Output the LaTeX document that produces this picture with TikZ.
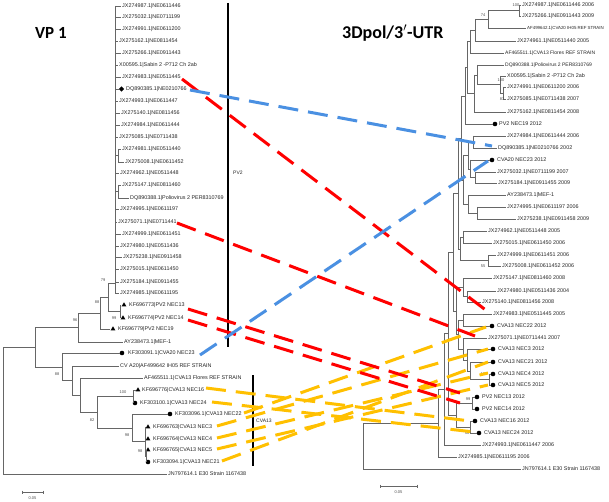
\documentclass[tikz,border=0pt]{standalone}
\usepackage{fontspec}
\setmainfont{Liberation Sans}
\newfontfamily\titlefont{Carlito}
\usetikzlibrary{shapes.geometric}
\newcommand\tvb[3]{\draw[tree] (#1,#2) -- (#1,#3);}
\newcommand\thb[3]{\draw[tree] (#1,#3) -- (#2,#3);}
\newcommand\lf[4]{\node[lab] (#1) at (#2,#3) {#4};}
\begin{document}
\begin{tikzpicture}[x=1pt,y=-1pt,
  tree/.style={draw=black!60, line width=0.5pt},
  lab/.style={anchor=west, inner sep=0pt, font=\fontsize{5.4}{6}\selectfont, text=black!85},
  bs/.style={inner sep=0pt, font=\fontsize{4}{5}\selectfont, text=black!70},
  tri/.style={regular polygon, regular polygon sides=3, fill=black, inner sep=0pt, minimum size=5.5pt},
  dot/.style={circle, fill=black, inner sep=0pt, minimum size=4.6pt},
  dia/.style={diamond, fill=black, inner sep=0pt, minimum size=5.5pt},
  conn/.style={line width=3pt, dash pattern=on 20pt off 10pt},
  bar/.style={draw=black, line width=1.3pt},
  ttl/.style={font=\titlefont\bfseries\fontsize{17}{19}\selectfont, inner sep=0pt}
]
\fill[white] (0,0) rectangle (609,502);
\useasboundingbox (0,0) rectangle (609,502);

% ---------- titles ----------
\node[ttl, anchor=west] (t1) at (35,33) {VP 1};
\node[ttl, anchor=west, font=\titlefont\bfseries\fontsize{18}{20}\selectfont] (t2) at (342,33) {3Dpol/3$'$-UTR};

% ---------- LEFT TREE leaves ----------
\lf{L1}{122}{6}{JX274987.1|NE0611446}
\lf{L2}{122}{17}{JX275032.1|NE0711199}
\lf{L3}{122}{29}{JX274991.1|NE0611200}
\lf{L4}{119}{41}{JX275162.1|NE0811454}
\lf{L5}{122}{53}{JX275266.1|NE0911443}
\lf{L6}{119}{65}{X00595.1|Sabin 2 -P712 Ch 2ab}
\lf{L7}{122}{77}{JX274983.1|NE0511445}
\lf{L8}{126}{89}{DQ890385.1|NE0210766}
\lf{L9}{119}{101}{JX274993.1|NE0611447}
\lf{L10}{121}{113}{JX275140.1|NE0811456}
\lf{L11}{121}{125}{JX274984.1|NE0611444}
\lf{L12}{119}{137}{JX275085.1|NE0711438}
\lf{L13}{122}{149}{JX274981.1|NE0511440}
\lf{L14}{125}{162}{JX275008.1|NE0611452}
\lf{L15}{120}{173}{JX274962.1|NE0511448}
\lf{L16}{122}{185}{JX275147.1|NE0811460}
\lf{L17}{130}{198}{DQ890388.1|Poliovirus 2 PER8310769}
\lf{L18}{120}{209}{JX274995.1|NE0611197}
\lf{L19}{118}{222}{JX275071.1|NE0711441}
\lf{L20}{122}{234}{JX274999.1|NE0611451}
\lf{L21}{120}{246}{JX274980.1|NE0511436}
\lf{L22}{123}{257}{JX275238.1|NE0911458}
\lf{L23}{120}{269}{JX275015.1|NE0611450}
\lf{L24}{120}{282}{JX275184.1|NE0911455}
\lf{L25}{120}{293}{JX274985.1|NE0611195}
\lf{L26}{129}{305}{KF696773|PV2 NEC13}
\lf{L27}{128}{318}{KF696774|PV2 NEC14}
\lf{L28}{118}{329}{KF696779|PV2 NEC19}
\lf{L29}{124}{342}{AY238473.1|MEF-1}
\lf{L30}{128}{353}{KF303091.1|CVA20 NEC23}
\lf{L31}{120}{366}{CV A20|AF499642 IH05 REF STRAIN}
\lf{L32}{144}{378}{AF465511.1|CVA13 Flores REF STRAIN}
\lf{L33}{142}{390}{KF696776|CVA13 NEC16}
\lf{L34}{140}{403}{KF303100.1|CVA13 NEC24}
\lf{L35}{175}{414}{KF303096.1|CVA13 NEC22}
\lf{L36}{153}{427}{KF696763|CVA13 NEC3}
\lf{L37}{153}{439}{KF696764|CVA13 NEC4}
\lf{L38}{153}{450}{KF696765|CVA13 NEC5}
\lf{L39}{153}{462}{KF303094.1|CVA13 NEC21}
\lf{L40}{168}{474}{JN797614.1 E30 Strain 1167438}
% markers
\node[dia] (mL8) at (121.5,89) {};
\node[tri] (mL26) at (124,305) {};
\node[tri] (mL27) at (123,318) {};
\node[tri] (mL28) at (113,329) {};
\node[dot] (mL30) at (122,353) {};
\node[tri] (mL33) at (138,390) {};
\node[dot] (mL34) at (135,403) {};
\node[dot] (mL35) at (170,414) {};
\node[tri] (mL36) at (148,427) {};
\node[tri] (mL37) at (148,439) {};
\node[tri] (mL38) at (148,450) {};
\node[dot] (mL39) at (148,462) {};

% ---------- LEFT TREE branches ----------
\tvb{3}{347}{474} \thb{3}{35}{347} \thb{3}{166.5}{474}
\tvb{35}{327.5}{367} \thb{35}{78}{327.5} \thb{35}{62}{367}
\tvb{78}{313}{342} \thb{78}{100}{313} \thb{78}{122.5}{342}
\tvb{100}{297}{329} \thb{100}{108}{297} \thb{100}{110}{329}
\tvb{108}{283}{311.5} \thb{108}{115}{283} \thb{108}{120}{311.5}
\tvb{120}{305}{318} \thb{120}{121}{305}
\tvb{115}{6}{293}
\foreach \yy/\xx in {6/122,17/122,29/122,41/119,53/122,65/119,77/122,101/119,113/121,125/121,137/119,173/120,209/120,222/118,234/122,246/120,257/123,269/120,282/120,293/120}
  {\draw[tree] (115,\yy) -- (\xx-1.5,\yy);}
\thb{115}{119}{89}
\tvb{118}{149}{162} \thb{115}{118}{155.5} \thb{118}{120.5}{149} \thb{118}{123.5}{162}
\tvb{118}{185}{198} \thb{115}{118}{191.5} \thb{118}{120.5}{185} \thb{118}{128.5}{198}
\tvb{62}{353}{380.5} \thb{62}{119.5}{353} \thb{62}{72}{380.5}
\tvb{72}{366}{395} \thb{72}{118.5}{366} \thb{72}{80}{395}
\tvb{80}{378}{412} \thb{80}{142.5}{378} \thb{80}{97}{412}
\tvb{97}{396.5}{428} \thb{97}{133}{396.5} \thb{97}{132}{428}
\tvb{133}{390}{403} \thb{133}{135.5}{390}
\tvb{132}{414}{441.5} \thb{132}{167.5}{414} \thb{132}{145}{441.5}
\tvb{145}{427}{456} \thb{145}{146}{427} \thb{145}{146}{439} \thb{145}{146.5}{456}
\tvb{146.5}{450}{462}

% bootstrap values left
\node[bs] (bl1) at (103,280) {79};
\node[bs] (bl2) at (97,302) {88};
\node[bs] (bl3) at (75,320) {96};
\node[bs] (bl4) at (114,318) {99};
\node[bs] (bl5) at (57,374) {88};
\node[bs] (bl6) at (123,392) {100};
\node[bs] (bl7) at (92,420) {82};
\node[bs] (bl8) at (127,435) {98};
\node[bs] (bl9) at (140,451) {98};

% scale bar left
\draw[tree] (22,492) -- (43,492);
\draw[tree] (22,490.5) -- (22,493.5);
\draw[tree] (43,490.5) -- (43,493.5);
\node[bs] (sl) at (32.5,498) {0.05};

% group bars
\draw[bar] (228,3) -- (228,347);
\node[lab, font=\fontsize{5}{6}\selectfont] (pv2) at (233,173) {PV2};
\draw[bar] (253,375) -- (253,466);
\node[lab, font=\fontsize{5}{6}\selectfont] (cva13) at (256,421) {CVA13};

% ---------- RIGHT TREE leaves ----------
\lf{R1}{522}{5}{JX274987.1|NE0611446 2006}
\lf{R2}{522}{16}{JX275266.1|NE0911443 2009}
\node[lab, font=\fontsize{4.4}{5}\selectfont] (R3) at (527,28) {AF499642.1|CVA20 IH05 REF STRAIN};
\lf{R4}{517}{41}{JX274961.1|NE0511440 2005}
\node[lab, font=\fontsize{5.0}{6}\selectfont] (R5) at (505,53) {AF465511.1|CVA13 Flores REF STRAIN};
\node[lab, font=\fontsize{5.0}{6}\selectfont] (R6) at (505,65) {DQ890388.1|Poliovirus 2 PER8310769};
\lf{R7}{507}{76}{X00595.1|Sabin 2 -P712 Ch 2ab}
\lf{R8}{507}{87}{JX274991.1|NE0611200 2006}
\lf{R9}{507}{99}{JX275085.1|NE0711438 2007}
\lf{R10}{507}{112}{JX275162.1|NE0811454 2008}
\lf{R11}{499}{124}{PV2 NEC19 2012}
\lf{R12}{507}{136}{JX274984.1|NE0611444 2006}
\lf{R13}{498}{148}{DQ890385.1|NE0210766 2002}
\lf{R14}{497}{160}{CVA20 NEC23 2012}
\lf{R15}{497}{172}{JX275032.1|NE0711199 2007}
\lf{R16}{498}{183}{JX275184.1|NE0911455 2009}
\lf{R17}{507}{195}{AY238473.1|MEF-1}
\lf{R18}{507}{207}{JX274995.1|NE0611197 2006}
\lf{R19}{517}{219}{JX275238.1|NE0911458 2009}
\lf{R20}{488}{231}{JX274962.1|NE0511448 2005}
\lf{R21}{493}{243}{JX275015.1|NE0611450 2006}
\lf{R22}{497}{255}{JX274999.1|NE0611451 2006}
\lf{R23}{502}{266}{JX275008.1|NE0611452 2006}
\lf{R24}{493}{278}{JX275147.1|NE0811460 2008}
\lf{R25}{497}{291}{JX274980.1|NE0511436 2004}
\lf{R26}{482}{302}{JX275140.1|NE0811456 2008}
\lf{R27}{493}{314}{JX274983.1|NE0511445 2005}
\lf{R28}{497}{326}{CVA13 NEC22 2012}
\lf{R29}{488}{338}{JX275071.1|NE0711441 2007}
\lf{R30}{498}{349}{CVA13 NEC3 2012}
\lf{R31}{498}{362}{CVA13 NEC21 2012}
\lf{R32}{498}{374}{CVA13 NEC4 2012}
\lf{R33}{498}{385}{CVA13 NEC5 2012}
\lf{R34}{482}{397}{PV2 NEC13 2012}
\lf{R35}{482}{409}{PV2 NEC14 2012}
\lf{R36}{480}{421}{CVA13 NEC16 2012}
\lf{R37}{484}{433}{CVA13 NEC24 2012}
\lf{R38}{482}{445}{JX274993.1|NE0611447 2006}
\lf{R39}{458}{457}{JX274985.1|NE0611195 2006}
\lf{R40}{522}{469}{JN797614.1 E30 Strain 1167438}
% markers right
\node[dot] (mR11) at (495,124) {};
\node[dot] (mR14) at (492,160) {};
\node[dot] (mR28) at (492,326) {};
\node[dot] (mR30) at (493,349) {};
\node[dot] (mR31) at (493,362) {};
\node[dot] (mR32) at (493,374) {};
\node[dot] (mR33) at (493,385) {};
\node[dot] (mR34) at (477,397) {};
\node[dot] (mR35) at (477,409) {};
\node[dot] (mR36) at (475,421) {};
\node[dot] (mR37) at (479,433) {};

% ---------- RIGHT TREE branches ----------
\tvb{519}{5}{16} \thb{519}{520.5}{5} \thb{519}{520.5}{16}
\tvb{488}{10.5}{28} \thb{488}{519}{10.5} \thb{488}{525.5}{28}
\tvb{475}{19}{41} \thb{475}{488}{19} \thb{475}{515.5}{41}
\tvb{470}{30}{53} \thb{470}{475}{30} \thb{470}{503.5}{53}
\tvb{503}{87}{99} \thb{503}{505.5}{87} \thb{503}{505.5}{99}
\tvb{500}{76}{93} \thb{500}{503}{93} \thb{500}{505.5}{76}
\tvb{477}{65}{84.5} \thb{477}{500}{84.5} \thb{477}{503.5}{65}
\tvb{474}{75}{112} \thb{474}{477}{75} \thb{474}{505.5}{112}
\tvb{467}{41.5}{93.5} \thb{467}{470}{41.5} \thb{467}{474}{93.5}
\tvb{465}{67.5}{124} \thb{465}{467}{67.5} \thb{465}{492.5}{124}
\tvb{473}{136}{148} \thb{473}{505.5}{136} \thb{473}{496.5}{148}
\tvb{475}{172}{183} \thb{475}{495.5}{172} \thb{475}{496.5}{183}
\tvb{470}{160}{177.5} \thb{470}{489.5}{160} \thb{470}{475}{177.5}
\tvb{468}{142}{169} \thb{468}{473}{142} \thb{468}{470}{169}
\tvb{477}{207}{219} \thb{477}{505.5}{207} \thb{477}{515.5}{219}
\tvb{468}{195}{213} \thb{468}{505.5}{195} \thb{468}{477}{213}
\tvb{463}{155.5}{204} \thb{463}{468}{155.5} \thb{463}{468}{204}
\tvb{461}{96}{180} \thb{461}{465}{96} \thb{461}{463}{180}
\tvb{463}{231}{243} \thb{463}{486.5}{231} \thb{463}{491.5}{243}
\tvb{488}{255}{266} \thb{488}{495.5}{255} \thb{488}{500.5}{266}
\tvb{460}{237}{260.5} \thb{460}{463}{237} \thb{460}{488}{260.5}
\tvb{458}{138}{249} \thb{458}{461}{138} \thb{458}{460}{249}
\tvb{467}{291}{302} \thb{467}{495.5}{291} \thb{467}{480.5}{302}
\tvb{463}{278}{296.5} \thb{463}{491.5}{278} \thb{463}{467}{296.5}
\tvb{463}{314}{326} \thb{463}{491.5}{314} \thb{463}{489.5}{326}
\tvb{489}{374}{385} \thb{489}{490.5}{374} \thb{489}{490.5}{385}
\tvb{470}{362}{379.5} \thb{470}{490.5}{362} \thb{470}{489}{379.5}
\tvb{467}{349}{371} \thb{467}{490.5}{349} \thb{467}{470}{371}
\tvb{463}{338}{360} \thb{463}{486.5}{338} \thb{463}{467}{360}
\tvb{458}{320}{349} \thb{458}{463}{320} \thb{458}{463}{349}
\tvb{456}{287}{334.5} \thb{456}{463}{287} \thb{456}{458}{334.5}
\tvb{453}{193.5}{311} \thb{453}{458}{193.5} \thb{453}{456}{311}
\tvb{472}{397}{409} \thb{472}{474.5}{397} \thb{472}{474.5}{409}
\tvb{470}{421}{433} \thb{470}{472.5}{421} \thb{470}{476.5}{433}
\tvb{456}{403}{427} \thb{456}{472}{403} \thb{456}{470}{427}
\tvb{448}{252}{415} \thb{448}{453}{252} \thb{448}{456}{415}
\tvb{444}{333.5}{445} \thb{444}{448}{333.5} \thb{444}{480.5}{445}
\tvb{438}{389}{457} \thb{438}{444}{389} \thb{438}{456.5}{457}
\tvb{363}{423}{469} \thb{363}{438}{423} \thb{363}{520.5}{469}

% bootstrap values right
\node[bs] (br1) at (516,5) {100};
\node[bs] (br2) at (483,15) {74};
\node[bs] (br3) at (501,80) {100};
\node[bs] (br4) at (502,99) {83};
\node[bs] (br5) at (483,266) {55};
\node[bs] (br6) at (484,374) {100};
\node[bs] (br7) at (468,399) {99};
\node[bs] (br8) at (467,433) {56};

% scale bar right
\draw[tree] (380,486) -- (417,486);
\draw[tree] (380,484.5) -- (380,487.5);
\draw[tree] (417,484.5) -- (417,487.5);
\node[bs] (sr) at (398.5,492) {0.05};

% ---------- connector end points ----------
\coordinate (aB1) at (190,90);   \coordinate (bB1) at (492,146);
\coordinate (aB2) at (200,355);  \coordinate (bB2) at (488,161);
\coordinate (aR1) at (182,79);   \coordinate (bR1) at (487,311);
\coordinate (aR2) at (177,223);  \coordinate (bR2) at (475,336);
\coordinate (aR3) at (188,309);  \coordinate (bR3) at (460,393);
\coordinate (aR4) at (188,320);  \coordinate (bR4) at (460,403);
\coordinate (aO16) at (206,388); \coordinate (bO16) at (470,421);
\coordinate (aO24) at (212,402); \coordinate (bO24) at (474,432);
\coordinate (aO22) at (244,413); \coordinate (bO22) at (486,327);
\coordinate (aO3) at (217,426);  \coordinate (bO3) at (488,349);
\coordinate (aO4) at (217,438);  \coordinate (bO4) at (488,373);
\coordinate (aO5) at (217,449);  \coordinate (bO5) at (488,385);
\coordinate (aO21) at (222,461); \coordinate (bO21) at (488,362);

% ---------- connectors ----------
\foreach \c in {O16,O24,O22,O3,O4,O5,O21}
  {\draw[conn, draw={rgb,255:red,255;green,192;blue,0}] (a\c) -- (b\c);}
\foreach \c in {R1,R2,R3,R4}
  {\draw[conn, draw={rgb,255:red,255;green,0;blue,0}] (a\c) -- (b\c);}
\foreach \c in {B1,B2}
  {\draw[conn, draw={rgb,255:red,74;green,144;blue,226}] (a\c) -- (b\c);}
\end{tikzpicture}
\end{document}
